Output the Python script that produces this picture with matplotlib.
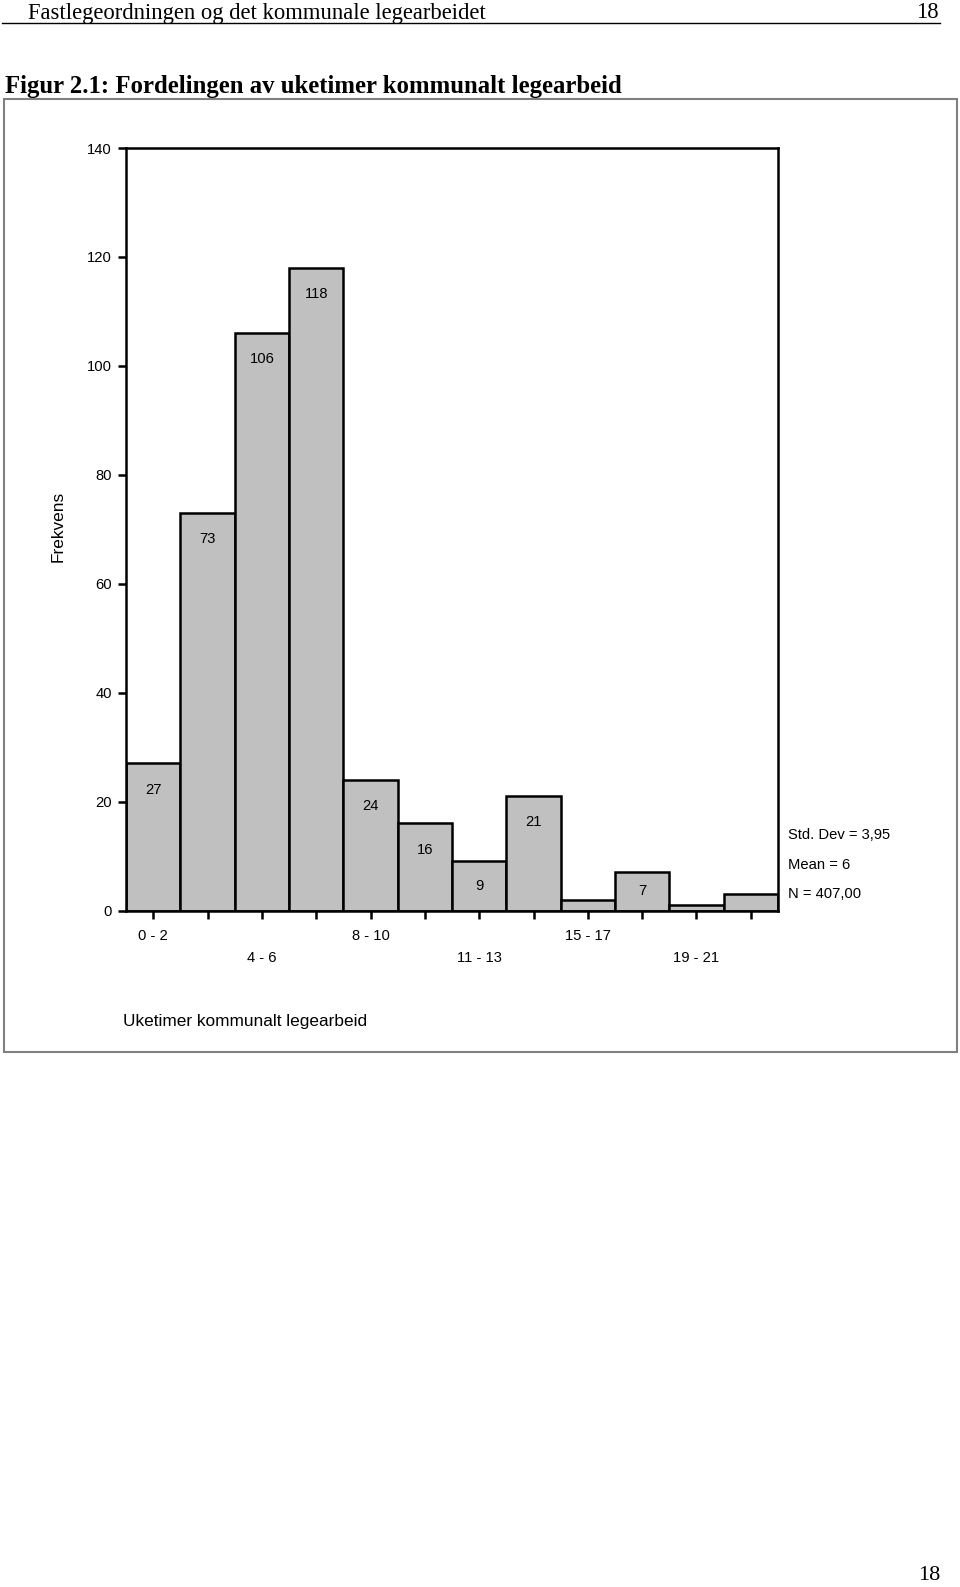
import numpy as np
import matplotlib
matplotlib.use('Agg')
from matplotlib import pyplot as plt
from matplotlib.patches import Rectangle
from matplotlib.lines import Line2D

# Histogram data (SPSS output)
counts = [27, 73, 106, 118, 24, 16, 9, 21, 2, 7, 1, 3]
tick_labels = ['0 - 2', '', '\n4 - 6', '', '8 - 10', '', '\n11 - 13', '',
               '15 - 17', '', '\n19 - 21', '']
yticks = [0, 20, 40, 60, 80, 100, 120, 140]
stats = ['Std. Dev = 3,95', 'Mean = 6', 'N = 407,00']

W, H = 960, 1587
plt.rcParams['font.family'] = ['Liberation Sans', 'DejaVu Sans']
fs = 10.6

fig = plt.figure(figsize=(W / 100, H / 100), dpi=100)

def fx(px):
    return px / W

def fy(py):
    return 1 - py / H

# page header
serif = ['Liberation Serif', 'DejaVu Serif']
fig.text(fx(28), fy(13), 'Fastlegeordningen og det kommunale legearbeidet',
         family=serif, fontsize=16.3, va='center', ha='left')
fig.text(fx(939), fy(13), '18', family=serif, fontsize=16.3, va='center', ha='right')
fig.add_artist(Line2D([fx(2), fx(940)], [fy(23), fy(23)], color='black', lw=1.0))
fig.text(fx(5), fy(87), 'Figur 2.1: Fordelingen av uketimer kommunalt legearbeid',
         family=serif, fontsize=17.8, fontweight='bold', va='center', ha='left')
fig.text(fx(940), fy(1576), '18', family=serif, fontsize=16, va='center', ha='right')

# outer frame round the chart
fig.add_artist(Rectangle((fx(4), fy(1052)), fx(953), 953 / H, fill=False,
                         edgecolor='#808080', lw=1.5))

left, right, top, bottom = 126, 778, 148, 910.5
ax = fig.add_axes([fx(left), fy(bottom), fx(right - left), (bottom - top) / H])

x = np.arange(len(counts))
ax.bar(x, counts, width=1.0, color='#c0c0c0', edgecolor='black', linewidth=1.8)
ax.set_xlim(-0.5, len(counts) - 0.5)
ax.set_ylim(0, 140)

for xi, v in zip(x, counts):
    if v >= 5:
        ax.text(xi, max(v - 4.8, v / 2), str(v), ha='center', va='center', fontsize=fs)

ax.set_yticks(yticks)
ax.set_yticklabels([str(t) for t in yticks], fontsize=fs)
ax.set_xticks(x)
ax.set_xticklabels(tick_labels, fontsize=fs)
for t in ax.get_xticklabels():
    t.set_linespacing(1.7)
ax.tick_params(axis='both', direction='out', length=6, width=1.8)
ax.tick_params(axis='x', pad=7.5)
ax.tick_params(axis='y', pad=4)
for s in ax.spines.values():
    s.set_linewidth(1.8)

ax.set_ylabel('Frekvens', fontsize=12.4)
ax.yaxis.set_label_coords(-0.092, 0.504)
ax.set_xlabel('Uketimer kommunalt legearbeid', fontsize=12.4, ha='left')
ax.xaxis.set_label_coords(-0.005, -0.1355)

for i, s in enumerate(stats):
    ax.text(1.0153, 0.0984 - i * 0.0384, s, transform=ax.transAxes,
            ha='left', va='center', fontsize=fs)

fig.savefig('out.png', dpi=100)
